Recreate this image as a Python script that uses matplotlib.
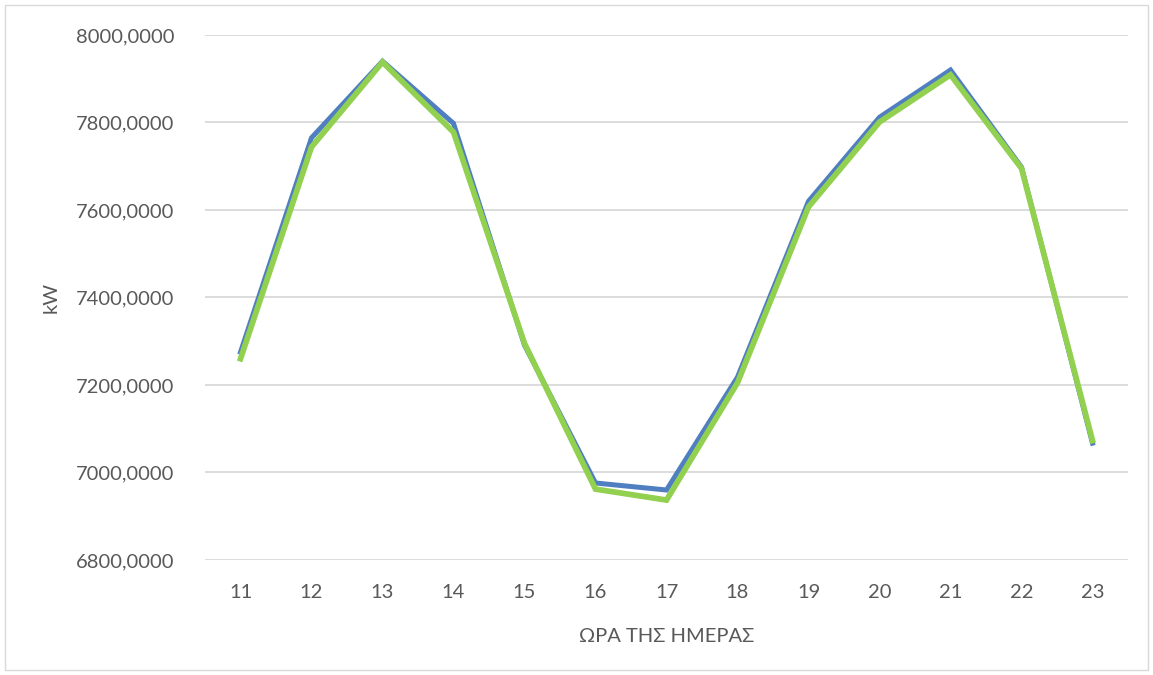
import matplotlib.pyplot as plt
from matplotlib.patches import Rectangle
from matplotlib.ticker import FuncFormatter

# Hourly load, two series
hours = [11, 12, 13, 14, 15, 16, 17, 18, 19, 20, 21, 22, 23]
load_a = [7275, 7765, 7940, 7798, 7291, 6976, 6960, 7218, 7620, 7812, 7920, 7698, 7067]
load_b = [7260, 7744, 7938, 7778, 7295, 6962, 6937, 7205, 7607, 7801, 7909, 7695, 7073]

plt.rcParams['font.family'] = ['Lato', 'DejaVu Sans']
text_color = '#595959'

fig = plt.figure(figsize=(11.53, 6.75), dpi=100)
ax = fig.add_axes([205 / 1153, 1 - 560 / 675, 923 / 1153, 525 / 675])

x = list(range(len(hours)))
ax.plot(x, load_a, color='#4F7FC0', linewidth=3.6, solid_joinstyle='miter', zorder=3)
ax.plot(x, load_b, color='#92D050', linewidth=4.1, solid_joinstyle='miter', zorder=4)

ax.set_xlim(-0.5, len(hours) - 0.5)
ax.set_ylim(6800, 8000)
ax.set_yticks(range(6800, 8001, 200))
ax.yaxis.set_major_formatter(FuncFormatter(lambda v, p: f"{v:.4f}".replace('.', ',')))
ax.set_xticks(x)
ax.set_xticklabels([str(h) for h in hours])

ax.grid(axis='y', color='#D9D9D9', linewidth=1.3)
ax.set_axisbelow(True)
for s in ax.spines.values():
    s.set_visible(False)
ax.tick_params(length=0, labelsize=14.5, colors=text_color)
ax.tick_params(axis='y', pad=22)
ax.tick_params(axis='x', pad=17)

ax.set_ylabel('kW', fontsize=14.5, color=text_color, labelpad=12)
ax.set_xlabel('ΩΡΑ ΤΗΣ ΗΜΕΡΑΣ', fontsize=14.5, color=text_color, labelpad=20)

# light frame around the whole chart
fig.patches.append(Rectangle((5 / 1153, 5 / 675), 1143 / 1153, 665 / 675,
                             transform=fig.transFigure, fill=False,
                             edgecolor='#D9D9D9', linewidth=1))

fig.savefig('out.png', dpi=100)
